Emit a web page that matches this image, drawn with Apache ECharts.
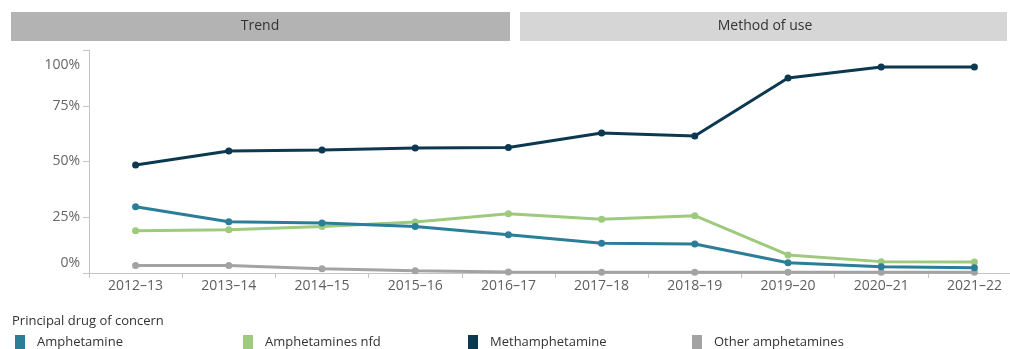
<!DOCTYPE html>
<html>
<head>
<meta charset="utf-8">
<script src="https://cdn.jsdelivr.net/npm/echarts@6/dist/echarts.min.js"></script>
<style>
html,body{margin:0;padding:0;background:#fff;overflow:hidden;width:1010px;height:349px;}
#chart{width:1030px;height:349px;}
</style>
</head>
<body>
<div id="chart"></div>
<script>
const categories = ['2012–13','2013–14','2014–15','2015–16','2016–17','2017–18','2018–19','2019–20','2020–21','2021–22'];
const amphetamine = [29.7, 23.0, 22.4, 20.8, 17.2, 13.3, 13.0, 4.6, 2.8, 2.4];
const amphetaminesNfd = [19.0, 19.4, 20.9, 22.9, 26.6, 24.1, 25.7, 8.1, 5.1, 4.9];
const methamphetamine = [48.4, 54.7, 55.2, 56.0, 56.3, 62.8, 61.4, 87.4, 92.4, 92.4];
const otherAmphetamines = [3.4, 3.4, 1.9, 1.0, 0.4, 0.3, 0.3, 0.3, 0.3, 0.3];
const yTicks = [0, 25, 50, 75, 100];
const seriesNames = ['Amphetamine','Amphetamines nfd','Methamphetamine','Other amphetamines'];
const colors = ['#2b7d98','#9dca7c','#0c3850','#a3a3a3'];

const FONT = "'Open Sans', 'Noto Sans', sans-serif";
const chart = echarts.init(document.getElementById('chart'));

const dataSets = [amphetamine, amphetaminesNfd, methamphetamine, otherAmphetamines];
const drawOrder = [3, 1, 0, 2];
const series = drawOrder.map(i => ({
  name: seriesNames[i],
  type: 'line',
  data: dataSets[i],
  symbol: 'circle',
  symbolSize: 7,
  lineStyle: {width: 3, color: colors[i]},
  itemStyle: {color: colors[i]},
  z: 2 + drawOrder.indexOf(i),
  animation: false
}));

const legendX = [15, 243, 468, 692];
const legends = seriesNames.map((n, i) => ({
  left: legendX[i],
  top: 335,
  data: [n],
  icon: 'rect',
  itemWidth: 10,
  itemHeight: 14,
  itemGap: 0,
  padding: 0,
  selectedMode: false,
  textStyle: {fontFamily: FONT, fontSize: 13, color: '#333', padding: [0,0,0,7]}
}));

chart.setOption({
  animation: false,
  color: colors,
  grid: {left: 89, width: 932, top: 50, bottom: 76, containLabel: false},
  xAxis: {
    type: 'category',
    data: categories,
    boundaryGap: true,
    axisLine: {lineStyle: {color: '#c4c4c4', width: 1}},
    axisTick: {show: true, length: 5, lineStyle: {color: '#c4c4c4'}},
    axisLabel: {fontFamily: FONT, fontSize: 14, color: '#5e5e5e', margin: 6}
  },
  yAxis: {
    type: 'value',
    min: 0,
    max: 100,
    interval: 25,
    splitLine: {show: false},
    axisLine: {show: true, lineStyle: {color: '#c4c4c4', width: 1}},
    axisTick: {show: true, length: 6, lineStyle: {color: '#c4c4c4'}},
    axisLabel: {
      fontFamily: FONT, fontSize: 14, color: '#666', margin: 9,
      formatter: v => {
        if (!yTicks.includes(v)) return '';
        if (v === 100) return '{top|' + v + '%}';
        if (v === 0) return '{bot|' + v + '%}';
        return v + '%';
      },
      rich: {
        top: {fontFamily: FONT, fontSize: 14, color: '#666', padding: [8, 0, 0, 0]},
        bot: {fontFamily: FONT, fontSize: 14, color: '#666', padding: [0, 0, 3, 0]}
      },
      verticalAlignMinLabel: 'bottom',
      verticalAlignMaxLabel: 'top'
    }
  },
  legend: legends,
  graphic: [
    {type: 'rect', left: 11, top: 12, shape: {width: 499, height: 29}, style: {fill: '#b3b3b3'}},
    {type: 'rect', left: 520, top: 12, shape: {width: 487, height: 29}, style: {fill: '#d6d6d6'}},
    {type: 'text', x: 260, y: 26.5, style: {text: 'Trend', fontFamily: FONT, fontSize: 14, fill: '#333', align: 'center', verticalAlign: 'middle'}},
    {type: 'text', x: 765, y: 26.5, style: {text: 'Method of use', fontFamily: FONT, fontSize: 14, fill: '#333', align: 'center', verticalAlign: 'middle'}},
    {type: 'text', x: 12, y: 321, style: {text: 'Principal drug of concern', fontFamily: FONT, fontSize: 13, fill: '#333', align: 'left', verticalAlign: 'middle'}}
  ],
  series: series
});
</script>
</body>
</html>
